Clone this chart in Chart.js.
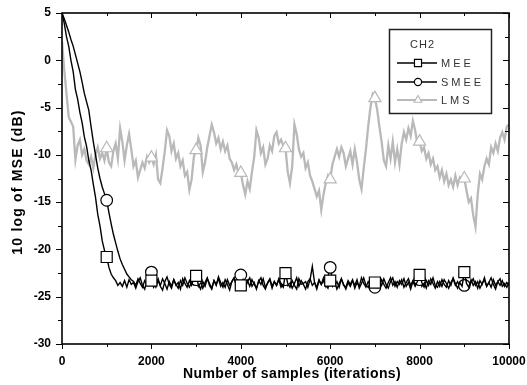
<!DOCTYPE html>
<html>
<head>
<meta charset="utf-8">
<script src="https://cdn.jsdelivr.net/npm/chart.js@4.4.0/dist/chart.umd.min.js"></script>
<style>
    html, body { margin: 0; padding: 0; background: #fff; }
    #wrap { width: 527px; height: 385px; position: relative; }
</style>
</head>
<body>
<div id="wrap"><canvas id="mseChart"></canvas></div>
<script>
// Sample grid (iterations) shared by all three curves, one row per 1000 samples
const iterations = [
    0, 50, 100, 150, 200, 250, 300, 350, 400, 450, 500, 550, 600, 650, 700, 750, 800, 850, 900, 950,
    1000, 1050, 1100, 1150, 1200, 1250, 1300, 1350, 1400, 1450, 1500, 1550, 1600, 1650, 1700, 1750, 1800, 1850, 1900, 1950,
    2000, 2050, 2100, 2150, 2200, 2250, 2300, 2350, 2400, 2450, 2500, 2550, 2600, 2650, 2700, 2750, 2800, 2850, 2900, 2950,
    3000, 3050, 3100, 3150, 3200, 3250, 3300, 3350, 3400, 3450, 3500, 3550, 3600, 3650, 3700, 3750, 3800, 3850, 3900, 3950,
    4000, 4050, 4100, 4150, 4200, 4250, 4300, 4350, 4400, 4450, 4500, 4550, 4600, 4650, 4700, 4750, 4800, 4850, 4900, 4950,
    5000, 5050, 5100, 5150, 5200, 5250, 5300, 5350, 5400, 5450, 5500, 5550, 5600, 5650, 5700, 5750, 5800, 5850, 5900, 5950,
    6000, 6050, 6100, 6150, 6200, 6250, 6300, 6350, 6400, 6450, 6500, 6550, 6600, 6650, 6700, 6750, 6800, 6850, 6900, 6950,
    7000, 7050, 7100, 7150, 7200, 7250, 7300, 7350, 7400, 7450, 7500, 7550, 7600, 7650, 7700, 7750, 7800, 7850, 7900, 7950,
    8000, 8050, 8100, 8150, 8200, 8250, 8300, 8350, 8400, 8450, 8500, 8550, 8600, 8650, 8700, 8750, 8800, 8850, 8900, 8950,
    9000, 9050, 9100, 9150, 9200, 9250, 9300, 9350, 9400, 9450, 9500, 9550, 9600, 9650, 9700, 9750, 9800, 9850, 9900, 9950,
    10000
];

// 10 log of MSE (dB)
const meeValues = [
    5.0, 3.9, 2.5, 1.5, 0.0, -1.2, -3.1, -4.1, -5.5, -6.6, -8.1, -9.1, -10.6, -11.6, -13.1, -14.5, -16.3, -17.5, -19.1, -20.1,
    -20.8, -21.9, -22.6, -23.0, -23.3, -23.8, -23.5, -23.9, -23.3, -24.0, -23.2, -23.7, -23.5, -24.1, -23.4, -23.0, -23.8, -24.2, -23.3, -23.6,
    -23.3, -24.0, -23.6, -23.1, -23.9, -24.3, -23.4, -22.9, -23.7, -24.1, -23.2, -23.8, -23.5, -24.2, -23.1, -23.6, -24.0, -23.3, -23.8, -23.0,
    -22.8, -23.7, -24.2, -23.4, -23.9, -23.1, -23.6, -24.1, -23.3, -23.8, -22.9, -23.5, -24.0, -23.2, -23.7, -24.3, -23.4, -23.0, -23.9, -23.5,
    -23.8, -23.2, -24.1, -23.4, -23.0, -23.9, -23.5, -24.2, -23.3, -23.7, -23.1, -24.0, -23.6, -23.2, -24.1, -23.4, -23.8, -23.1, -23.7, -24.0,
    -22.5, -23.6, -24.0, -23.3, -23.8, -24.2, -23.1, -23.7, -23.6, -23.4, -24.0, -23.2, -21.8, -23.5, -24.2, -23.3, -23.7, -23.0, -23.8, -24.1,
    -23.3, -23.9, -23.4, -24.2, -23.6, -23.1, -23.8, -24.0, -23.3, -23.7, -23.2, -24.1, -23.5, -23.9, -23.0, -23.6, -24.0, -23.4, -23.8, -23.2,
    -23.5, -24.0, -23.3, -23.8, -23.1, -23.7, -24.1, -23.4, -23.0, -23.9, -23.4, -23.7, -23.2, -24.0, -23.5, -23.1, -23.8, -23.3, -23.9, -23.4,
    -22.7, -23.5, -24.0, -23.3, -23.8, -23.1, -23.6, -24.1, -23.4, -23.9, -23.2, -23.7, -24.0, -23.3, -23.8, -23.0, -23.6, -24.1, -23.5, -23.9,
    -22.4, -23.6, -24.0, -23.2, -23.8, -23.4, -24.1, -23.3, -23.7, -23.0, -23.9, -23.5, -24.0, -23.2, -23.8, -23.4, -23.1, -23.9, -23.6, -24.0,
    -23.5
];

const smeeValues = [
    5.0, 4.4, 3.7, 3.0, 2.2, 1.5, 0.6, -0.3, -1.2, -2.3, -3.5, -4.4, -5.3, -7.0, -8.6, -10.0, -11.4, -12.5, -13.4, -14.1,
    -14.8, -16.1, -17.3, -18.4, -19.3, -20.2, -21.0, -21.6, -22.1, -22.6, -22.9, -23.2, -23.4, -23.8, -23.1, -23.6, -24.0, -23.3, -23.7, -23.2,
    -22.4, -23.5, -24.0, -23.3, -23.8, -23.1, -23.6, -24.2, -23.4, -23.9, -23.2, -23.7, -24.1, -23.3, -23.8, -23.0, -23.6, -24.0, -23.4, -23.7,
    -23.2, -23.9, -23.4, -24.1, -23.5, -23.0, -23.8, -24.2, -23.3, -23.7, -23.1, -23.9, -23.5, -24.0, -23.2, -23.8, -23.4, -23.0, -23.7, -24.1,
    -22.7, -23.6, -24.0, -23.3, -23.9, -23.2, -23.7, -24.1, -23.4, -23.0, -23.8, -24.2, -23.5, -23.1, -23.9, -23.4, -23.8, -23.2, -24.0, -23.6,
    -23.2, -23.8, -23.4, -24.1, -23.6, -23.0, -23.9, -23.3, -23.7, -24.2, -23.4, -23.1, -23.8, -23.5, -24.0, -23.2, -23.7, -23.3, -23.9, -22.9,
    -21.9, -23.2, -23.8, -23.4, -24.0, -23.1, -23.7, -24.2, -23.5, -23.9, -23.3, -23.8, -23.2, -24.1, -23.6, -23.0, -23.8, -24.0, -23.4, -23.9,
    -24.0, -23.4, -23.9, -23.2, -23.7, -24.1, -23.5, -23.0, -23.8, -23.4, -24.0, -23.3, -23.7, -23.1, -23.9, -23.5, -24.2, -23.4, -23.8, -23.2,
    -23.2, -23.9, -23.5, -24.1, -23.3, -23.7, -23.0, -23.8, -24.0, -23.4, -23.9, -23.2, -23.6, -24.1, -23.5, -23.1, -23.8, -23.4, -24.0, -23.6,
    -23.8, -23.3, -24.0, -23.5, -23.1, -23.8, -23.4, -24.1, -23.6, -23.2, -23.9, -23.5, -23.0, -23.7, -24.2, -23.4, -23.8, -23.3, -23.9, -23.5,
    -23.8
];

const lmsValues = [
    2.0, -1.0, -3.5, -6.0, -6.5, -7.0, -10.5, -9.0, -8.4, -10.0, -9.4, -10.6, -11.0, -10.2, -11.4, -10.0, -9.2, -10.4, -9.8, -10.6,
    -9.3, -10.8, -11.2, -9.6, -8.8, -10.4, -7.2, -8.6, -10.6, -9.0, -7.8, -9.4, -11.2, -10.6, -12.4, -11.6, -10.8, -11.4, -10.2, -10.8,
    -10.3, -11.0, -10.0, -12.6, -13.0, -11.4, -9.6, -7.4, -8.0, -9.6, -8.8, -10.4, -9.8, -11.2, -10.6, -12.2, -11.8, -13.7, -12.6, -10.2,
    -9.5, -8.2, -9.0, -11.8, -10.8, -9.2, -8.0, -6.8, -7.6, -8.8, -8.2, -9.4, -8.6, -9.6, -9.0, -10.4, -10.8, -11.6, -11.0, -12.0,
    -11.9, -13.2, -14.2, -12.8, -13.6, -11.8, -10.2, -7.4, -8.2, -9.8, -9.2, -11.0, -10.4, -9.0, -9.6, -8.0, -7.6, -8.8, -8.4, -9.0,
    -9.3, -11.8, -13.0, -11.2, -6.8, -7.8, -9.4, -10.2, -9.8, -11.4, -10.8, -12.2, -12.8, -13.6, -14.4, -13.8, -15.8, -14.2, -13.0, -12.2,
    -12.6, -11.0, -10.2, -9.4, -10.2, -9.2, -9.8, -11.2, -10.4, -9.6, -11.0, -9.4, -10.8, -12.6, -13.6, -11.4, -9.4, -7.0, -5.0, -3.6,
    -4.0, -5.2, -7.0, -8.6, -10.6, -11.2, -9.0, -10.4, -8.6, -10.8, -9.4, -11.0, -8.8, -7.6, -8.4, -7.2, -8.0, -6.4, -7.4, -8.8,
    -8.6, -9.6, -9.2, -10.4, -9.8, -11.0, -10.4, -11.6, -11.2, -12.4, -11.6, -12.8, -12.0, -13.2, -12.6, -13.4, -12.2, -13.2, -12.4, -12.8,
    -12.5, -13.8, -15.0, -14.6, -16.4, -17.6, -14.2, -12.0, -12.6, -11.2, -10.4, -11.0, -9.2, -9.8, -8.8, -9.6, -8.2, -7.6, -8.4, -7.0,
    -6.8
];

// Symbols are drawn only every 1000 samples
const markerIters = [1000, 2000, 3000, 4000, 5000, 6000, 7000, 8000, 9000];

const seriesNames = ['MEE', 'SMEE', 'LMS'];
const legendTitle = 'CH2';
const xTitle = 'Number of samples (iterations)';
const yTitle = '10 log of MSE (dB)';

const FONT = '"Liberation Sans", Arial, sans-serif';
const GRAY = '#b9b9b9';

function toPoints(values) {
    return iterations.map((it, i) => ({ x: it, y: values[i] }));
}

function markerRadius(r) {
    return ctx => markerIters.includes(iterations[ctx.dataIndex]) ? r : 0;
}

// Box frame with outward ticks on bottom/left and inward mirror ticks on top/right
const frameTicks = {
    id: 'frameTicks',
    afterDatasetsDraw(chart) {
        const { ctx, chartArea: a, scales } = chart;
        ctx.save();
        ctx.strokeStyle = '#000';
        ctx.lineWidth = 1;
        ctx.beginPath();
        scales.x.ticks.forEach(t => {
            const px = Math.round(scales.x.getPixelForValue(t.value)) + 0.5;
            const len = t.value % 2000 === 0 ? 5 : 3;
            ctx.moveTo(px, a.bottom); ctx.lineTo(px, a.bottom + len);
            ctx.moveTo(px, a.top); ctx.lineTo(px, a.top + len);
        });
        scales.y.ticks.forEach(t => {
            const py = Math.round(scales.y.getPixelForValue(t.value)) + 0.5;
            const len = t.value % 5 === 0 ? 6 : 4;
            ctx.moveTo(a.left, py); ctx.lineTo(a.left - len, py);
            ctx.moveTo(a.right, py); ctx.lineTo(a.right - len, py);
        });
        ctx.stroke();
        ctx.lineWidth = 1.6;
        ctx.strokeRect(a.left, a.top, a.right - a.left, a.bottom - a.top);
        ctx.restore();
    }
};

// Axis titles drawn by hand so the letter spacing can follow the original
const axisTitles = {
    id: 'axisTitles',
    afterDraw(chart) {
        const { ctx } = chart;
        ctx.save();
        ctx.fillStyle = '#000';
        ctx.font = 'bold 14px ' + FONT;
        ctx.textAlign = 'center';
        ctx.textBaseline = 'alphabetic';
        ctx.letterSpacing = '0.4px';
        ctx.fillText(xTitle, 292, 378);
        ctx.translate(22, 182);
        ctx.rotate(-Math.PI / 2);
        ctx.letterSpacing = '1.2px';
        ctx.fillText(yTitle, 0, 0);
        ctx.restore();
    }
};

// Origin-style legend: line with a symbol in the middle
const boxLegend = {
    id: 'boxLegend',
    afterDraw(chart) {
        const { ctx } = chart;
        const box = { x: 389.5, y: 29.5, w: 102, h: 84 };
        ctx.save();
        ctx.fillStyle = '#fff';
        ctx.fillRect(box.x, box.y, box.w, box.h);
        ctx.strokeStyle = '#222';
        ctx.lineWidth = 1.5;
        ctx.strokeRect(box.x, box.y, box.w, box.h);

        ctx.fillStyle = '#333';
        ctx.font = '11px ' + FONT;
        ctx.letterSpacing = '1px';
        ctx.textBaseline = 'middle';
        ctx.fillText(legendTitle, 410, 45);

        const rows = [63, 82, 100];
        chart.data.datasets.forEach((ds, i) => {
            const y = rows[i];
            ctx.strokeStyle = ds.borderColor;
            ctx.lineWidth = i === 2 ? 2 : 1.3;
            ctx.beginPath();
            ctx.moveTo(397, y); ctx.lineTo(437, y);
            ctx.stroke();
            ctx.fillStyle = '#fff';
            ctx.strokeStyle = ds.pointBorderColor;
            ctx.lineWidth = 1.2;
            Chart.helpers.drawPoint(ctx, {
                pointStyle: ds.pointStyle, radius: ds.legendRadius, borderWidth: 1.2, rotation: 0
            }, 418, y);
            ctx.fillStyle = '#333';
            ctx.letterSpacing = '3px';
            ctx.fillText(seriesNames[i], 441, y + 0.5);
        });
        ctx.restore();
    }
};

new Chart(document.getElementById('mseChart'), {
    type: 'line',
    data: {
        datasets: [
            {
                label: seriesNames[0],
                data: toPoints(meeValues),
                borderColor: '#000',
                borderWidth: 1.4,
                pointStyle: 'rect',
                pointRadius: markerRadius(7.8),
                pointBackgroundColor: '#fff',
                pointBorderColor: '#000',
                pointBorderWidth: 1.2,
                legendRadius: 5,
                order: 1
            },
            {
                label: seriesNames[1],
                data: toPoints(smeeValues),
                borderColor: '#000',
                borderWidth: 1.4,
                pointStyle: 'circle',
                pointRadius: markerRadius(5.8),
                pointBackgroundColor: '#fff',
                pointBorderColor: '#000',
                pointBorderWidth: 1.2,
                legendRadius: 3.6,
                order: 2
            },
            {
                label: seriesNames[2],
                data: toPoints(lmsValues),
                borderColor: GRAY,
                borderWidth: 2.3,
                pointStyle: 'triangle',
                pointRadius: markerRadius(7),
                pointBackgroundColor: '#fff',
                pointBorderColor: GRAY,
                pointBorderWidth: 1.2,
                legendRadius: 4.5,
                order: 3
            }
        ]
    },
    options: {
        responsive: true,
        maintainAspectRatio: false,
        animation: false,
        events: [],
        layout: { padding: { top: 13, right: 18, left: 0, bottom: 0 } },
        plugins: {
            legend: { display: false },
            tooltip: { enabled: false }
        },
        elements: { line: { tension: 0 } },
        scales: {
            x: {
                type: 'linear',
                min: 0,
                max: 10000,
                grid: { display: false, drawTicks: false },
                border: { display: false },
                ticks: {
                    stepSize: 1000,
                    padding: 10,
                    maxRotation: 0,
                    autoSkip: false,
                    color: '#000',
                    font: { family: FONT, size: 12, weight: 'bold' },
                    callback: v => v % 2000 === 0 ? String(v) : ''
                },
                afterFit: scale => {
                    scale.height = 41;
                    scale.paddingLeft = 0;
                    scale.paddingRight = 0;
                }
            },
            y: {
                min: -30,
                max: 5,
                grid: { display: false, drawTicks: false },
                border: { display: false },
                ticks: {
                    stepSize: 2.5,
                    padding: 11,
                    autoSkip: false,
                    color: '#000',
                    font: { family: FONT, size: 12, weight: 'bold' },
                    callback: v => v % 5 === 0 ? String(v) : ''
                },
                afterFit: scale => {
                    scale.width = 62;
                    scale.paddingTop = 0;
                    scale.paddingBottom = 0;
                }
            }
        }
    },
    plugins: [frameTicks, axisTitles, boxLegend]
});
</script>
</body>
</html>
